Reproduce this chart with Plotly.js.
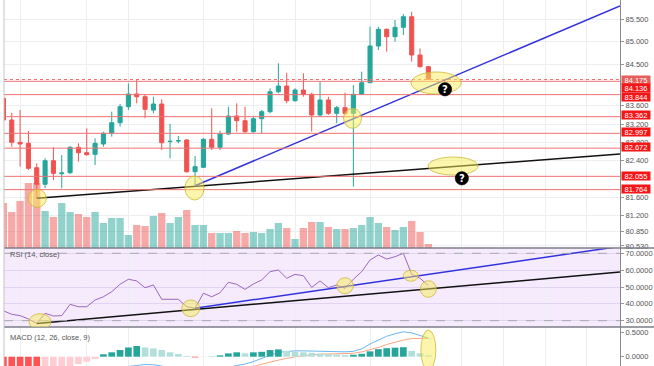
<!DOCTYPE html>
<html><head><meta charset="utf-8">
<script src="https://cdn.plot.ly/plotly-3.0.1.min.js"></script>
<style>html,body{margin:0;padding:0;background:#fff;overflow:hidden}#chart{width:654px;height:400px}</style>
</head><body><div id="chart"></div>
<script>
// ---------- DATA ----------
const open  = [83.764,83.289,82.800,82.778,82.244,81.881,82.397,82.113,82.135,82.691,
               82.573,82.537,82.763,82.997,83.229,83.580,83.858,83.799,83.507,83.639,
               82.816,82.829,82.851,82.156,82.253,82.866,82.691,82.982,83.376,83.273,
               83.032,83.317,83.470,83.908,84.033,83.711,83.945,83.851,83.398,83.726,
               83.435,83.558,83.435,83.851,84.105,84.909,85.274,85.112,85.318,85.550,
               84.712,84.456];
const high  = [83.836,83.448,83.507,83.048,82.340,82.450,82.691,82.522,82.719,82.778,
               83.107,82.888,83.032,83.470,83.639,84.092,84.164,83.858,83.799,83.742,
               83.201,82.938,82.872,82.500,82.894,83.545,83.054,83.580,83.654,83.580,
               83.354,83.507,83.983,84.530,84.324,83.983,84.311,83.886,84.127,83.799,
               83.595,83.886,84.055,84.346,85.331,85.331,85.296,85.478,85.609,85.660,
               84.858,84.470];
const low   = [83.245,82.704,82.266,82.194,81.574,81.800,81.975,81.793,82.106,82.375,
               82.510,82.303,82.704,82.923,83.142,83.507,83.654,83.326,83.435,82.632,
               82.450,82.778,82.135,81.865,82.237,82.632,82.632,82.960,83.032,83.010,
               83.010,82.997,83.435,83.873,83.654,83.689,83.799,83.032,83.361,83.398,
               83.216,83.398,81.828,83.836,84.099,84.821,84.784,85.003,85.150,84.565,
               84.440,84.164];
const close = [83.289,82.800,82.763,82.231,81.881,82.397,82.121,82.128,82.691,82.573,
               82.529,82.778,82.997,83.229,83.580,83.858,83.799,83.523,83.639,82.791,
               82.822,82.835,82.156,82.266,82.866,82.691,82.982,83.376,83.273,83.032,
               83.317,83.470,83.908,84.033,83.711,83.945,83.851,83.398,83.726,83.435,
               83.558,83.435,83.851,84.105,84.909,85.274,85.112,85.318,85.550,84.712,
               84.456,84.186];
const volume = [45,36,47,65,65,37,31,45,36,34, 31,36,25,30,30,13,23,22,32,35,
                25,31,38,23,23,15,15,15,17,15, 16,15,19,25,20,9,20,26,26,21,
                19,19,20,23,31,25,21,18,21,27, 16,4];
const rsi = [35.9,33.8,33.0,31.0,28.4,34.4,32.8,33.0,39.7,38.3,
             38.3,42.3,44.2,47.2,51.6,54.6,53.6,49.6,51.2,42.7,
             42.7,42.7,38.3,37.4,46.3,44.2,46.6,52.8,51.6,48.6,
             51.8,54.2,59.1,60.1,55.2,57.5,56.7,49.8,53.6,49.6,
             51.2,49.2,54.6,59.1,66.0,69.0,66.6,68.0,70.0,57.5,
             55.2,50.8];
const macd = [-0.55,-0.6,-0.64,-0.7,-0.76,-0.72,-0.7,-0.66,-0.58,-0.52,
              -0.46,-0.4,-0.34,-0.28,-0.24,-0.2,-0.18,-0.16,-0.165,-0.2,
              -0.22,-0.24,-0.28,-0.3,-0.28,-0.27,-0.25,-0.22,-0.18,-0.15,
              -0.1,-0.03,0.03,0.09,0.11,0.12,0.12,0.115,0.11,0.1,
              0.1,0.1,0.11,0.16,0.26,0.34,0.42,0.47,0.51,0.49,
              0.44,0.38];
const signal = [-0.3,-0.36,-0.42,-0.48,-0.54,-0.58,-0.61,-0.63,-0.62,-0.6,
                -0.57,-0.53,-0.49,-0.45,-0.4,-0.36,-0.33,-0.31,-0.3,-0.29,
                -0.28,-0.28,-0.28,-0.29,-0.29,-0.28,-0.27,-0.26,-0.25,-0.23,
                -0.2,-0.15,-0.11,-0.07,-0.03,0.0,0.02,0.04,0.05,0.055,
                0.06,0.065,0.07,0.1,0.14,0.19,0.25,0.3,0.34,0.37,
                0.38,0.38];
const hist = [-0.3,-0.32,-0.34,-0.36,-0.38,-0.3,-0.27,-0.24,-0.2,-0.15,
              -0.1,-0.05,0.05,0.09,0.137,0.19,0.22,0.19,0.17,0.137,
              0.09,0.055,0.015,-0.015,-0.005,0.005,0.027,0.068,0.09,0.068,
              0.09,0.1,0.137,0.15,0.12,0.1,0.09,0.08,0.065,0.055,
              0.045,0.035,0.04,0.06,0.11,0.155,0.175,0.185,0.195,0.12,
              0.07,0.03];
const levels      = [84.175,84.136,83.844,83.362,82.997,82.672,82.055,81.764];
const levelLabels = ['84.175','84.136','83.844','83.362','82.997','82.672','82.055','81.764'];
const priceTicks  = [85.5,85.0,84.5,83.6,83.2,82.8,82.4,81.6,81.2,80.85,80.53];
const priceTickText = ['85.500','85.000','84.500','83.600','83.200','82.800','82.400','81.600','81.200','80.850','80.530'];
const rsiTicks = [70,60,50,40,30];
const rsiTickText = ['70.0000','60.0000','50.0000','40.0000','30.0000'];
const macdTicks = [0.5,0];
const macdTickText = ['0.5000','0.0000'];
const gridX = [2,10,15,24,30,35,44,55,60,65,70];
// drawn trend lines (index, value)
const priceSupport = [[4,81.574],[74,82.544]];
const priceRising  = [[23,81.85],[74,85.785]];
const rsiSupport   = [[4,28.4],[74,58.84]];
const rsiRising    = [[23,37.4],[74,74.1]];

// ---------- highlight marks (annotation positions) ----------
const priceHighlights = [[4.07,81.574,9,9],[22.94,81.80,9.5,12],[41.9,83.326,9,10],[51.93,84.099,25,11],[53.97,82.281,25,9]];
const rsiHighlights   = [[4.39,29.4,11,8],[22.48,37.36,9,8.3],[41.0,50.77,8.3,8],[48.9,56.7,7.5,5.5],[51.0,48.8,8,8.3]];
const macdHighlights  = [[51.0,0.137,7.5,20]];
const questionMarks   = [[53.0,83.961],[55.02,82.012]];

// ---------- build ----------
// The window is 366 px high; the MACD pane continues below the window edge (cut off, as in the source).
const H = 400;
const idx = open.map((_, i) => i);
const volColors = close.map((c, i) => c >= open[i] ? 'rgba(38,166,154,0.5)' : 'rgba(239,83,80,0.5)');
const histColors = hist.map((h, i) => {
  if (i === 0) return h >= 0 ? '#26a69a' : '#ff5252';
  const p = hist[i-1];
  if (h >= 0) return h >= p ? '#26a69a' : '#b2dfdb';
  return h < p ? '#ff5252' : '#ffcdd2';
});
const F = 'Liberation Sans, Arial, sans-serif';
const mainDom = [(H-248)/H, 1], rsiDom = [(H-327)/H, (H-248)/H], macdDom = [0, (H-327)/H];
const macdRange = [-(H-356.7)/48.8, 0.609];

const traces = [
  {type:'bar', x:idx, y:volume, xaxis:'x', yaxis:'y5', width:0.88, marker:{color:volColors, line:{width:0}}, hoverinfo:'skip'},
  {type:'candlestick', x:idx, open, high, low, close, xaxis:'x', yaxis:'y',
   increasing:{line:{color:'#26a69a', width:1}, fillcolor:'#26a69a'},
   decreasing:{line:{color:'#ef5350', width:1}, fillcolor:'#ef5350'}, hoverinfo:'skip'},
  {type:'scatter', mode:'lines', x:priceSupport.map(p=>p[0]), y:priceSupport.map(p=>p[1]), yaxis:'y', line:{color:'#111', width:1.5}, hoverinfo:'skip'},
  {type:'scatter', mode:'lines', x:priceRising.map(p=>p[0]), y:priceRising.map(p=>p[1]), yaxis:'y', line:{color:'#3232dc', width:1.5}, hoverinfo:'skip'},
  {type:'scatter', mode:'lines', x:idx, y:rsi, yaxis:'y3', line:{color:'#9457b8', width:0.9}, hoverinfo:'skip'},
  {type:'scatter', mode:'lines', x:rsiSupport.map(p=>p[0]), y:rsiSupport.map(p=>p[1]), yaxis:'y3', line:{color:'#111', width:1.5}, hoverinfo:'skip'},
  {type:'scatter', mode:'lines', x:rsiRising.map(p=>p[0]), y:rsiRising.map(p=>p[1]), yaxis:'y3', line:{color:'#3232dc', width:1.5}, hoverinfo:'skip'},
  {type:'scatter', mode:'lines', x:idx, y:macd, yaxis:'y4', line:{color:'#5aaef0', width:0.9}, hoverinfo:'skip'},
  {type:'scatter', mode:'lines', x:idx, y:signal, yaxis:'y4', line:{color:'#f79a6e', width:0.9}, hoverinfo:'skip'},
  {type:'bar', x:idx, y:hist, yaxis:'y6', width:0.8, marker:{color:histColors, line:{width:0}}, hoverinfo:'skip', cliponaxis:false}
];

const shapes = [];
shapes.push({type:'rect', xref:'paper', yref:'paper', x0:0, x1:1, y0:rsiDom[0], y1:rsiDom[1], fillcolor:'rgba(180,100,240,0.13)', line:{width:0}, layer:'below'});
[70,30].forEach(v => shapes.push({type:'line', xref:'paper', yref:'y3', x0:0, x1:1, y0:v, y1:v, line:{color:'#a8a8b0', width:1, dash:'dash'}}));
levels.forEach((v, k) => shapes.push({type:'line', xref:'paper', yref:'y', x0:0, x1:1, y0:v, y1:v,
  line:{color:'#f07272', width:1, dash: k === 0 ? 'dot' : 'solid'}}));
const W = 650/616;
[mainDom[0], rsiDom[0]].forEach(y => shapes.push({type:'line', xref:'paper', yref:'paper', x0:0, x1:W, y0:y, y1:y, line:{color:'#7b7e87', width:1.5}}));
shapes.push({type:'line', xref:'paper', yref:'paper', x0:0, x1:0, y0:0, y1:1, line:{color:'#c4c4c4', width:1}});
function ell(list, yref) {
  list.forEach(([x, y, rx, ry]) => shapes.push({type:'circle', xref:'x', yref, xsizemode:'pixel', ysizemode:'pixel',
    xanchor:x, yanchor:y, x0:-rx, x1:rx, y0:-ry, y1:ry,
    fillcolor:'rgba(250,236,90,0.5)', line:{color:'rgba(200,180,50,0.75)', width:1}, layer:'above'}));
}
ell(priceHighlights, 'y'); ell(rsiHighlights, 'y3'); ell(macdHighlights, 'y4');
questionMarks.forEach(([x, y]) => shapes.push({type:'circle', xref:'x', yref:'y', xsizemode:'pixel', ysizemode:'pixel',
  xanchor:x, yanchor:y, x0:-6.7, x1:6.7, y0:-6.7, y1:6.7, fillcolor:'#000', line:{color:'#000', width:0.5}, layer:'above'}));

const labelShift = [0, -6.4, -2.1, 1.3, 1, 1.2, 0.6, 0.6];
const annotations = levels.map((v, k) => ({xref:'paper', yref:'y', x:1, y:v, xanchor:'left', yanchor:'middle', xshift:1, yshift:labelShift[k],
  text:levelLabels[k], showarrow:false, font:{family:F, size:7.5, color:'#fff'}, bgcolor: k === 0 ? '#e45e5c' : '#f41616',
  width:28, height:8, borderpad:0, align:'center'}));
annotations.push({xref:'paper', yref:'paper', x:4/616, y:(H-254)/H, xanchor:'left', yanchor:'middle', text:'RSI (14, close)', showarrow:false, font:{family:F, size:7.5, color:'#555'}});
annotations.push({xref:'paper', yref:'paper', x:4/616, y:(H-337)/H, xanchor:'left', yanchor:'middle', text:'MACD (12, 26, close, 9)', showarrow:false, font:{family:F, size:7.5, color:'#555'}});
questionMarks.forEach(([x, y]) => annotations.push({xref:'x', yref:'y', x, y, text:'<b>?</b>', showarrow:false, font:{family:'DejaVu Sans, sans-serif', size:10, color:'#fff'}, xanchor:'center', yanchor:'middle'}));

const yBase = {side:'right', anchor:'x', ticks:'outside', ticklen:3, tickcolor:'#9a9a9a', showline:true, linecolor:'#8a8a8a', linewidth:1,
  tickfont:{family:F, size:7.5, color:'#555'}, zeroline:false, fixedrange:true};
const layout = {
  width:654, height:H, margin:{l:4, r:34, t:0, b:0}, paper_bgcolor:'#fff', plot_bgcolor:'rgba(0,0,0,0)',
  showlegend:false, barmode:'overlay', dragmode:false,
  xaxis:{domain:[0,1], range:[0.07,74], anchor:'y4', showticklabels:false, ticks:'', tickvals:gridX, showgrid:true,
         gridcolor:'#eceef2', zeroline:false, rangeslider:{visible:false}, showline:false, fixedrange:true},
  yaxis5:{domain:mainDom, range:[0,248], anchor:'x', visible:false, fixedrange:true},
  yaxis:Object.assign({}, yBase, {overlaying:'y5', range:[80.486,85.916], tickvals:priceTicks, ticktext:priceTickText, showgrid:true, gridcolor:'#eceef2'}),
  yaxis3:Object.assign({}, yBase, {domain:rsiDom, range:[26.26,73.15], tickvals:rsiTicks, ticktext:rsiTickText, showgrid:true, gridcolor:'rgba(190,170,220,0.35)'}),
  yaxis4:Object.assign({}, yBase, {domain:macdDom, range:macdRange, tickvals:macdTicks, ticktext:macdTickText, showgrid:false}),
  yaxis6:{overlaying:'y4', anchor:'x', side:'right', range:macdRange, visible:false, fixedrange:true},
  shapes, annotations
};
Plotly.newPlot('chart', traces, layout, {staticPlot:true, displayModeBar:false});
</script></body></html>
